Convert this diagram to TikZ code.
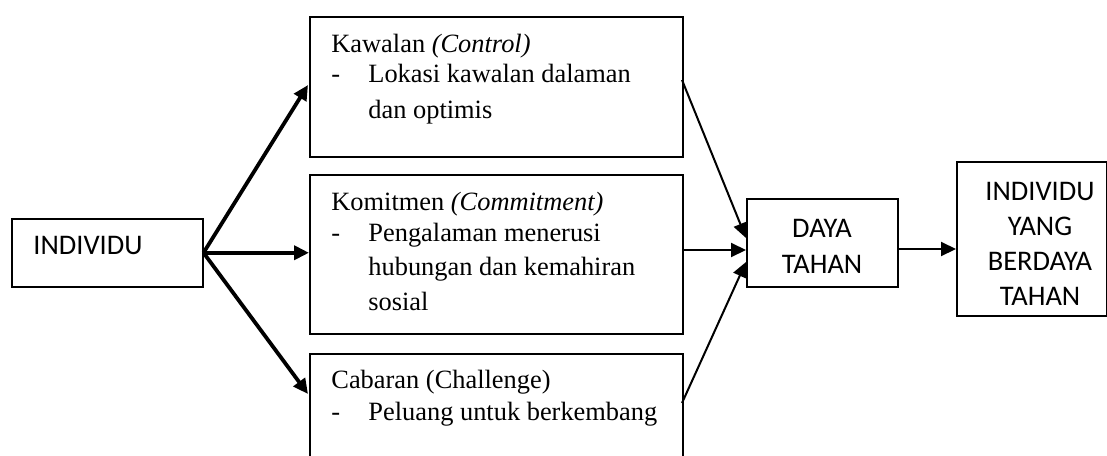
\documentclass[tikz,border=0pt]{standalone}
\usepackage{fontspec}
\setmainfont{Liberation Serif}
\newfontfamily\carlito{Carlito}
\usetikzlibrary{arrows.meta}
\begin{document}
\begin{tikzpicture}[x=0.5pt,y=-0.5pt,
  box/.style={draw,line width=0.75pt,inner sep=0,anchor=north west},
  txt/.style={inner sep=0,anchor=base west,font=\fontsize{13.2}{16}\selectfont},
  stxt/.style={inner sep=0,align=center,font=\carlito\fontsize{14.2}{17.5}\selectfont},
  thick arr/.style={line width=1.9pt,-{Triangle[length=7.5pt,width=7pt]}},
  thin arr/.style={line width=1pt,-{Triangle[length=7.5pt,width=7pt]}}]
\clip (0,0) rectangle (1107,455);
\fill[white] (0,0) rectangle (1107,455);
% boxes
\node[box,minimum width=191*0.5pt,minimum height=68*0.5pt] (ind) at (11,218) {};
\node[box,minimum width=373*0.5pt,minimum height=140*0.5pt] (kaw) at (309,16) {};
\node[box,minimum width=373*0.5pt,minimum height=159*0.5pt] (kom) at (309,174) {};
\node[box,minimum width=373*0.5pt,minimum height=120*0.5pt] (cab) at (309,353) {};
\node[box,minimum width=151*0.5pt,minimum height=88*0.5pt] (daya) at (746,198) {};
\node[box,minimum width=149.5*0.5pt,minimum height=154*0.5pt] (res) at (956,161) {};
% texts
\node[stxt,anchor=base] (indt) at (88,254) {INDIVIDU};
\node[stxt,anchor=base] (dayat1) at (822,237) {DAYA};
\node[stxt,anchor=base] (dayat2) at (822,273) {TAHAN};
\node[stxt,anchor=base] (rest1) at (1040,200) {INDIVIDU};
\node[stxt,anchor=base] (rest2) at (1040,235) {YANG};
\node[stxt,anchor=base] (rest3) at (1040,270) {BERDAYA};
\node[stxt,anchor=base] (rest4) at (1040,305) {TAHAN};
\node[txt] (k1) at (331,52) {Kawalan \textit{(Control)}};
\node[txt] (k2) at (331,82) {-};
\node[txt] (k3) at (368,82) {Lokasi kawalan dalaman};
\node[txt] (k4) at (368,118) {dan optimis};
\node[txt] (m1) at (331,210) {Komitmen \textit{(Commitment)}};
\node[txt] (m2) at (331,241) {-};
\node[txt] (m3) at (368,241) {Pengalaman menerusi};
\node[txt] (m4) at (368,275) {hubungan dan kemahiran};
\node[txt] (m5) at (368,310) {sosial};
\node[txt] (c1) at (331,388) {Cabaran (Challenge)};
\node[txt] (c2) at (331,420) {-};
\node[txt] (c3) at (368,420) {Peluang untuk berkembang};
% connector ends
\coordinate (kin) at (308,85);
\coordinate (cin) at (308,394);
\coordinate (kout) at (682,80);
\coordinate (cout) at (682,403);
\coordinate (d1) at (746,238);
\coordinate (d2) at (746,250);
\coordinate (d3) at (746,262);
\coordinate (dout) at (897,249);
\coordinate (rin) at (956,249);
% connectors
\draw[thick arr] (ind.east) -- (kin);
\draw[thick arr] (ind.east) -- (kom.west |- ind.east);
\draw[thick arr] (ind.east) -- (cin);
\draw[thin arr] (kout) -- (d1);
\draw[thin arr] (kom.east |- d2) -- (d2);
\draw[thin arr] (cout) -- (d3);
\draw[thin arr] (dout) -- (rin);
\end{tikzpicture}
\end{document}
